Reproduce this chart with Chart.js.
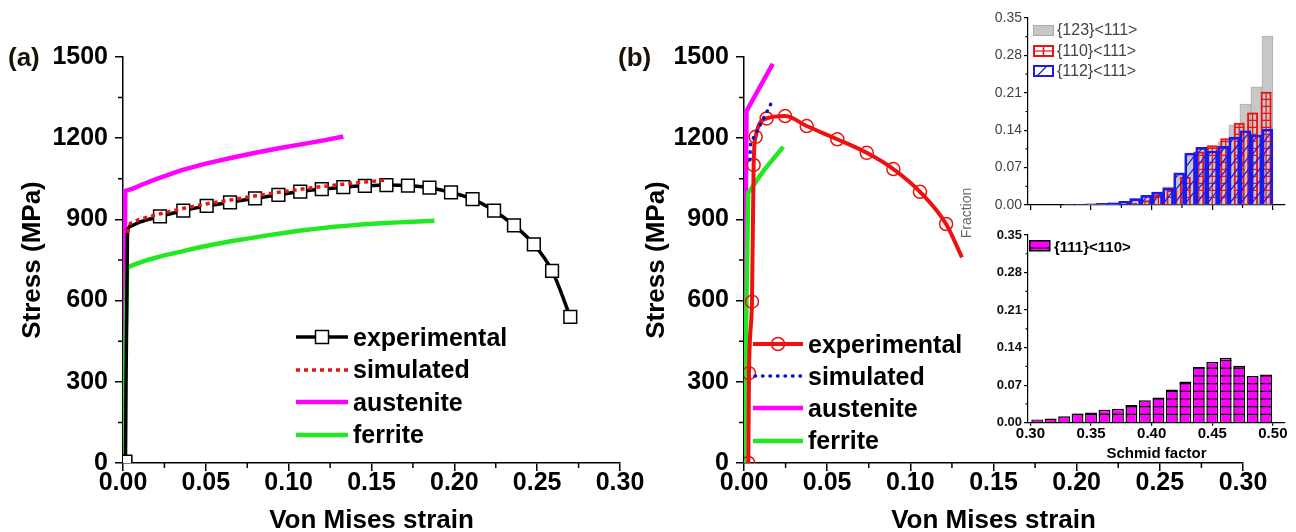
<!DOCTYPE html>
<html><head><meta charset="utf-8">
<script src="https://cdn.jsdelivr.net/npm/chart.js@4.4.1/dist/chart.umd.min.js"></script>
<style>
html,body{margin:0;padding:0;background:#fff;}
body{width:1296px;height:532px;position:relative;overflow:hidden;font-family:"Liberation Sans",Arial,sans-serif;}
canvas{position:absolute;}
.t{position:absolute;white-space:nowrap;line-height:1;}
.panel{font-size:26px;font-weight:bold;color:#1a1208;}
.leg{position:absolute;}
.row{display:flex;align-items:center;height:32.5px;font-size:25px;font-weight:bold;color:#000;}
.row svg{margin-right:5px;}
.irow{display:flex;align-items:center;font-size:16px;color:#444;}
.irow svg{margin-right:3px;}
</style></head><body>
<canvas id="ca" width="660" height="532" style="left:0;top:0"></canvas>
<canvas id="cb" width="656" height="532" style="left:640px;top:0"></canvas>
<canvas id="ct" width="336" height="215" style="left:960px;top:0"></canvas>
<canvas id="cl" width="336" height="237" style="left:960px;top:225px"></canvas>

<div class="t panel" style="left:8px;top:44px;">(a)</div>
<div class="t panel" style="left:618px;top:44px;">(b)</div>
<div class="t" style="left:966px;top:213px;font-size:14px;color:#666;transform:translate(-50%,-50%) rotate(-90deg);">Fraction</div>

<div class="leg" style="left:296px;top:321px;">
  <div class="row"><svg width="52" height="20"><line x1="0" y1="10" x2="52" y2="10" stroke="#000" stroke-width="3.5"/><rect x="19.5" y="3.5" width="13" height="13" fill="#fff" stroke="#000" stroke-width="1.5"/></svg>experimental</div>
  <div class="row"><svg width="52" height="20"><line x1="0" y1="10" x2="52" y2="10" stroke="#e8141a" stroke-width="3.5" stroke-dasharray="4 4"/></svg>simulated</div>
  <div class="row"><svg width="52" height="20"><line x1="0" y1="10" x2="52" y2="10" stroke="#ff00ff" stroke-width="4.5"/></svg>austenite</div>
  <div class="row"><svg width="52" height="20"><line x1="0" y1="10" x2="52" y2="10" stroke="#22e822" stroke-width="4.5"/></svg>ferrite</div>
</div>
<div class="leg" style="left:753px;top:328px;">
  <div class="row" style="height:32.2px"><svg width="50" height="20"><line x1="0" y1="10" x2="50" y2="10" stroke="#ee1111" stroke-width="4"/><circle cx="25" cy="10" r="6.5" fill="none" stroke="#ee1111" stroke-width="1.5"/></svg>experimental</div>
  <div class="row" style="height:32.2px"><svg width="50" height="20"><line x1="2" y1="10" x2="50" y2="10" stroke="#1010c8" stroke-width="3.5" stroke-dasharray="0.5 7" stroke-linecap="round"/></svg>simulated</div>
  <div class="row" style="height:32.2px"><svg width="50" height="20"><line x1="0" y1="10" x2="50" y2="10" stroke="#ff00ff" stroke-width="4.5"/></svg>austenite</div>
  <div class="row" style="height:32.2px"><svg width="50" height="20"><line x1="0" y1="10" x2="50" y2="10" stroke="#22e822" stroke-width="4.5"/></svg>ferrite</div>
</div>
<div class="leg" style="left:1033px;top:20px;">
  <div class="irow" style="height:20.5px"><svg width="21" height="11"><rect x="0.5" y="0.5" width="20" height="10" fill="#c8c8c8" stroke="#aaa" stroke-width="1"/></svg>{123}&lt;111&gt;</div>
  <div class="irow" style="height:20.5px"><svg width="21" height="12"><rect x="1" y="1" width="19" height="10" fill="none" stroke="#ee1111" stroke-width="2"/><line x1="10.5" y1="1" x2="10.5" y2="11" stroke="#ee1111" stroke-width="1.5"/><line x1="1" y1="6" x2="20" y2="6" stroke="#ee1111" stroke-width="1.2"/></svg>{110}&lt;111&gt;</div>
  <div class="irow" style="height:20.5px"><svg width="21" height="12"><rect x="1" y="1" width="19" height="10" fill="none" stroke="#1a1aee" stroke-width="2"/><line x1="4" y1="11" x2="14" y2="1" stroke="#1a1aee" stroke-width="1.2"/></svg>{112}&lt;111&gt;</div>
</div>
<div class="leg" style="left:1029px;top:238px;">
  <div class="irow" style="height:16px;font-weight:bold;color:#000;font-size:15px;"><svg width="22" height="12"><rect x="0.75" y="0.75" width="20" height="10" fill="#ff00ff" stroke="#000" stroke-width="1.5"/><line x1="1" y1="8" x2="21" y2="8" stroke="#000" stroke-width="1.2"/></svg>{111}&lt;110&gt;</div>
</div>

<script>
// ---------- Panel (a) data ----------
const strainExpA = [0.0015, 0.0027, 0.0042, 0.010, 0.0223, 0.0364, 0.0505, 0.0646, 0.0797, 0.0938, 0.107, 0.120, 0.133, 0.146, 0.159, 0.172, 0.185, 0.198, 0.211, 0.224, 0.236, 0.248, 0.259, 0.270];
const stressExpA = [5, 850, 874, 890, 911, 932, 950, 963, 978, 991, 1003, 1012, 1019, 1024, 1027, 1025, 1017, 1000, 975, 932, 878, 808, 710, 540];
const strainSimA = [0.0027, 0.0045, 0.010, 0.022, 0.036, 0.050, 0.065, 0.080, 0.094, 0.107, 0.120, 0.133, 0.146, 0.160];
const stressSimA = [850, 886, 900, 920, 940, 957, 972, 987, 1000, 1011, 1021, 1030, 1038, 1046];
const strainAusA = [0.0, 0.0014, 0.006, 0.012, 0.020, 0.035, 0.050, 0.065, 0.080, 0.095, 0.110, 0.122, 0.133];
const stressAusA = [0, 1005, 1014, 1030, 1049, 1081, 1106, 1127, 1146, 1164, 1180, 1193, 1206];
const strainFerA = [0.0, 0.0025, 0.008, 0.0153, 0.025, 0.035, 0.0455, 0.0555, 0.066, 0.076, 0.086, 0.096, 0.106, 0.116, 0.126, 0.136, 0.146, 0.156, 0.166, 0.175, 0.188];
const stressFerA = [0, 723, 736, 751, 767, 781, 796, 808, 820, 830, 840, 849, 858, 865, 872, 877, 882, 886, 889, 891, 895];

// ---------- Panel (b) data ----------
const strainExpB = [0.0026, 0.003, 0.0048, 0.0058, 0.007, 0.0136, 0.0247, 0.0377, 0.0561, 0.0738, 0.0898, 0.1058, 0.1215, 0.131];
const stressExpB = [0, 332, 596, 1101, 1205, 1273, 1282, 1245, 1196, 1146, 1086, 1002, 883, 760];
const strainSimB = [0.0035, 0.004, 0.0066, 0.009, 0.0112, 0.0136, 0.016];
const stressSimB = [1120, 1183, 1212, 1239, 1267, 1295, 1325];
const strainAusB = [0.0, 0.0015, 0.0173];
const stressAusB = [0, 1300, 1475];
const strainFerB = [0.0, 0.0025, 0.012, 0.0236];
const stressFerB = [0, 998, 1082, 1168];

// ---------- Main axes ticks ----------
const strainTicks = [0, 0.05, 0.10, 0.15, 0.20, 0.25, 0.30];
const stressTicks = [0, 300, 600, 900, 1200, 1500];

// ---------- Inset (top) : BCC slip systems ----------
const binsWide = [0.3056, 0.3167, 0.3278, 0.3389, 0.3500, 0.3611, 0.3722, 0.3833, 0.3944, 0.4056, 0.4167, 0.4278, 0.4389, 0.4500, 0.4611, 0.4722, 0.4833, 0.4944];
const binsNarrow = [0.3045, 0.3136, 0.3227, 0.3318, 0.3409, 0.3500, 0.3591, 0.3682, 0.3773, 0.3864, 0.3955, 0.4045, 0.4136, 0.4227, 0.4318, 0.4409, 0.4500, 0.4591, 0.4682, 0.4773, 0.4864, 0.4955];
const frac123 = [0, 0, 0, 0.001, 0.001, 0.002, 0.003, 0.004, 0.007, 0.012, 0.018, 0.024, 0.034, 0.055, 0.092, 0.105, 0.108, 0.118, 0.150, 0.189, 0.221, 0.316];
const frac110 = [0, 0, 0, 0.001, 0.002, 0.002, 0.003, 0.004, 0.009, 0.019, 0.028, 0.053, 0.100, 0.112, 0.125, 0.154, 0.173, 0.212];
const frac112 = [0, 0, 0, 0.001, 0.001, 0.002, 0.003, 0.004, 0.007, 0.012, 0.018, 0.024, 0.032, 0.060, 0.097, 0.108, 0.101, 0.110, 0.127, 0.139, 0.131, 0.142];
// ---------- Inset (bottom) : FCC slip system ----------
const frac111 = [0.006, 0.008, 0.012, 0.017, 0.019, 0.024, 0.026, 0.033, 0.042, 0.047, 0.062, 0.077, 0.104, 0.113, 0.121, 0.106, 0.087, 0.090];
const fracTicks = [0, 0.07, 0.14, 0.21, 0.28, 0.35];
const schmidTicks = [0.30, 0.35, 0.40, 0.45, 0.50];

const pts = (xs, ys) => xs.map((x, i) => ({x, y: ys[i]}));

Chart.defaults.font.family = "'Liberation Sans', Arial, Helvetica, sans-serif";
Chart.defaults.color = '#000';

const minorTicks = {
  id: 'minorTicks',
  afterDraw(chart, args, opts) {
    const ctx = chart.ctx;
    (opts.axes || []).forEach(a => {
      const sc = chart.scales[a.id];
      const vals = sc.ticks.map(t => t.value);
      ctx.save();
      ctx.strokeStyle = a.color || '#000';
      ctx.lineWidth = a.width || 1.5;
      ctx.beginPath();
      for (let i = 0; i < vals.length - 1; i++) {
        const p = sc.getPixelForValue((vals[i] + vals[i + 1]) / 2);
        if (sc.isHorizontal()) { ctx.moveTo(p, sc.top); ctx.lineTo(p, sc.top + a.len); }
        else { ctx.moveTo(sc.right, p); ctx.lineTo(sc.right - a.len, p); }
      }
      ctx.stroke();
      ctx.restore();
    });
  }
};

const hatch = {
  id: 'hatch',
  afterDatasetDraw(chart, args) {
    const ds = chart.data.datasets[args.index];
    const h = ds.hatch; if (!h) return;
    const ctx = chart.ctx;
    ctx.save();
    ctx.strokeStyle = h.color; ctx.lineWidth = h.width;
    args.meta.data.forEach(bar => {
      const {x, y, base, width} = bar.getProps(['x', 'y', 'base', 'width'], true);
      const l = x - width / 2, r = x + width / 2, t = Math.min(y, base), b = Math.max(y, base);
      if (b - t < 1) return;
      ctx.save();
      ctx.beginPath(); ctx.rect(l, t, r - l, b - t); ctx.clip();
      ctx.beginPath();
      if (h.type === 'h' || h.type === 'grid') {
        for (let yy = b - h.gap; yy > t; yy -= h.gap) { ctx.moveTo(l, yy); ctx.lineTo(r, yy); }
      }
      if (h.type === 'grid') { ctx.moveTo(x, t); ctx.lineTo(x, b); }
      if (h.type === 'diag') {
        for (let k = b; k > t - (r - l) * 1.3; k -= h.gap) { ctx.moveTo(l, k); ctx.lineTo(r, k - (r - l) * 1.3); }
      }
      ctx.stroke();
      ctx.restore();
    });
    ctx.restore();
  }
};

function mainScales(yTitlePad) {
  return {
    x: {
      type: 'linear', min: strainTicks[0], max: strainTicks[strainTicks.length - 1],
      afterBuildTicks: s => { s.ticks = strainTicks.map(v => ({value: v})); },
      ticks: { callback: v => Number(v).toFixed(2), font: {size: 25, weight: 'bold', lineHeight: 1}, color: '#000', padding: 0, maxRotation: 0, autoSkip: false },
      grid: { drawOnChartArea: false, color: '#000', tickLength: 8, lineWidth: 1.5 },
      border: { color: '#000', width: 1.5 },
      title: { display: true, text: 'Von Mises strain', font: {size: 26, weight: 'bold', lineHeight: 1}, color: '#000', padding: {top: 0, bottom: -2} }
    },
    y: {
      type: 'linear', min: stressTicks[0], max: stressTicks[stressTicks.length - 1],
      afterBuildTicks: s => { s.ticks = stressTicks.map(v => ({value: v})); },
      ticks: { callback: v => String(v), font: {size: 25, weight: 'bold', lineHeight: 1}, color: '#000', padding: 7 },
      grid: { drawOnChartArea: false, color: '#000', tickLength: 8, lineWidth: 1.5 },
      border: { color: '#000', width: 1.5 },
      title: { display: true, text: 'Stress (MPa)', font: {size: 26, weight: 'bold', lineHeight: 1}, color: '#000', padding: {top: yTitlePad, bottom: 0} }
    }
  };
}

function lineDs(label, data, color, width, extra) {
  return Object.assign({ label, data, borderColor: color, backgroundColor: color, borderWidth: width, pointRadius: 0, tension: 0, fill: false }, extra || {});
}

// Panel (a)
const scA = mainScales(20);
scA.y.afterFit = s => { s.width = 123; };
scA.x.afterFit = s => { s.height = 69; };
new Chart(document.getElementById('ca'), {
  type: 'line',
  data: { datasets: [
    lineDs('simulated', pts(strainSimA, stressSimA), '#e8141a', 3.5, { borderDash: [4, 4], order: 1 }),
    lineDs('experimental', pts(strainExpA, stressExpA), '#000', 3.5, {
      order: 2, cubicInterpolationMode: 'monotone',
      pointStyle: 'rect', pointBackgroundColor: '#fff', pointBorderColor: '#000', pointBorderWidth: 1.5,
      pointRadius: c => (c.dataIndex === 0 || (c.raw && c.raw.x > 0.02)) ? 9 : 0 }),
    lineDs('austenite', pts(strainAusA, stressAusA), '#ff00ff', 4.5, { order: 4 }),
    lineDs('ferrite', pts(strainFerA, stressFerA), '#22e822', 4.5, { order: 3 })
  ]},
  options: {
    responsive: false, animation: false, events: [],
    layout: { padding: {left: 0, top: 57, right: 40, bottom: 0} },
    plugins: { legend: {display: false}, tooltip: {enabled: false},
      minorTicks: { axes: [{id: 'x', len: 5}, {id: 'y', len: 5}] } },
    scales: scA
  },
  plugins: [minorTicks]
});

// Panel (b)
const scB = mainScales(4);
scB.y.afterFit = s => { s.width = 104; };
scB.x.afterFit = s => { s.height = 69; };
new Chart(document.getElementById('cb'), {
  type: 'line',
  data: { datasets: [
    lineDs('simulated', pts(strainSimB, stressSimB), '#1010c8', 3.5, { borderDash: [0.5, 7], borderCapStyle: 'round', order: 1 }),
    lineDs('experimental', pts(strainExpB, stressExpB), '#ee1111', 4, {
      order: 2, cubicInterpolationMode: 'monotone',
      pointStyle: 'circle', pointBackgroundColor: 'rgba(0,0,0,0)', pointBorderColor: '#ee1111', pointBorderWidth: 1.5,
      pointRadius: c => (c.dataIndex === strainExpB.length - 1) ? 0 : 6.5 }),
    lineDs('austenite', pts(strainAusB, stressAusB), '#ff00ff', 4.5, { order: 4 }),
    lineDs('ferrite', pts(strainFerB, stressFerB), '#22e822', 4.5, { order: 3 })
  ]},
  options: {
    responsive: false, animation: false, events: [],
    layout: { padding: {left: 0, top: 57, right: 53, bottom: 0} },
    plugins: { legend: {display: false}, tooltip: {enabled: false},
      minorTicks: { axes: [{id: 'x', len: 5}, {id: 'y', len: 5}] } },
    scales: scB
  },
  plugins: [minorTicks]
});

function insetX(showLabels, h) {
  return {
    type: 'linear', min: 0.298, max: 0.51, offset: false,
    afterBuildTicks: s => { s.ticks = schmidTicks.map(v => ({value: v})); },
    ticks: { display: showLabels, callback: v => Number(v).toFixed(2), font: {size: 15, weight: 'bold', lineHeight: 1}, color: '#000', padding: 1, maxRotation: 0, autoSkip: false },
    grid: { drawOnChartArea: false, offset: false, color: '#000', tickLength: showLabels ? 3 : 5, lineWidth: 1.2 },
    border: { color: '#000', width: 1.2 },
    afterFit: s => { s.height = h; }
  };
}
function hiddenX() { return { type: 'linear', min: 0.298, max: 0.51, offset: false, display: false }; }
function insetY(font, color) {
  return {
    type: 'linear', min: 0, max: 0.35,
    afterBuildTicks: s => { s.ticks = fracTicks.map(v => ({value: v})); },
    ticks: { callback: v => Number(v).toFixed(2), font, color, padding: 2 },
    grid: { drawOnChartArea: false, color: '#000', tickLength: 4, lineWidth: 1.2 },
    border: { color: '#000', width: 1.2 },
    afterFit: s => { s.width = 68; }
  };
}

// Inset top
new Chart(document.getElementById('ct'), {
  type: 'bar',
  data: { datasets: [
    { label: '{123}<111>', data: pts(binsNarrow, frac123), xAxisID: 'xn', backgroundColor: '#c8c8c8', borderColor: '#b0b0b0', borderWidth: 1, barPercentage: 1, categoryPercentage: 1, grouped: false, order: 3 },
    { label: '{110}<111>', data: pts(binsWide, frac110), xAxisID: 'xw', backgroundColor: 'rgba(0,0,0,0)', borderColor: '#ee1111', borderWidth: 2, barPercentage: 0.82, categoryPercentage: 1, grouped: false, order: 2,
      hatch: { type: 'grid', color: '#ee1111', width: 1.2, gap: 7 } },
    { label: '{112}<111>', data: pts(binsNarrow, frac112), xAxisID: 'xn2', backgroundColor: 'rgba(0,0,0,0)', borderColor: '#1a1aee', borderWidth: 2, barPercentage: 1, categoryPercentage: 1, grouped: false, order: 1,
      hatch: { type: 'diag', color: '#1a1aee', width: 1.2, gap: 12 } }
  ]},
  options: {
    responsive: false, animation: false, events: [],
    layout: { padding: {left: 0, top: 18, right: 11, bottom: 0} },
    plugins: { legend: {display: false}, tooltip: {enabled: false},
      minorTicks: { axes: [{id: 'x', len: 3, width: 1.2}, {id: 'y', len: 2.5, width: 1.2}] } },
    scales: { x: insetX(false, 10), xn: hiddenX(), xw: hiddenX(), xn2: hiddenX(),
      y: insetY({size: 14, lineHeight: 1}, '#444') }
  },
  plugins: [minorTicks, hatch]
});

// Inset bottom
const xBot = insetX(true, 39.3);
xBot.title = { display: true, text: 'Schmid factor', font: {size: 15, weight: 'bold', lineHeight: 1}, color: '#000', padding: {top: 0, bottom: 1} };
new Chart(document.getElementById('cl'), {
  type: 'bar',
  data: { datasets: [
    { label: '{111}<110>', data: pts(binsWide, frac111), xAxisID: 'xw', backgroundColor: '#ff00ff', borderColor: '#000', borderWidth: 1.5, barPercentage: 0.88, categoryPercentage: 1, grouped: false,
      hatch: { type: 'h', color: '#000', width: 1.2, gap: 7.7 } }
  ]},
  options: {
    responsive: false, animation: false, events: [],
    layout: { padding: {left: 0, top: 10, right: 11, bottom: 0} },
    plugins: { legend: {display: false}, tooltip: {enabled: false},
      minorTicks: { axes: [{id: 'y', len: 2.5, width: 1.2}] } },
    scales: { x: xBot, xw: hiddenX(), y: insetY({size: 13, weight: 'bold', lineHeight: 1}, '#111') }
  },
  plugins: [minorTicks, hatch]
});
</script>
</body></html>
